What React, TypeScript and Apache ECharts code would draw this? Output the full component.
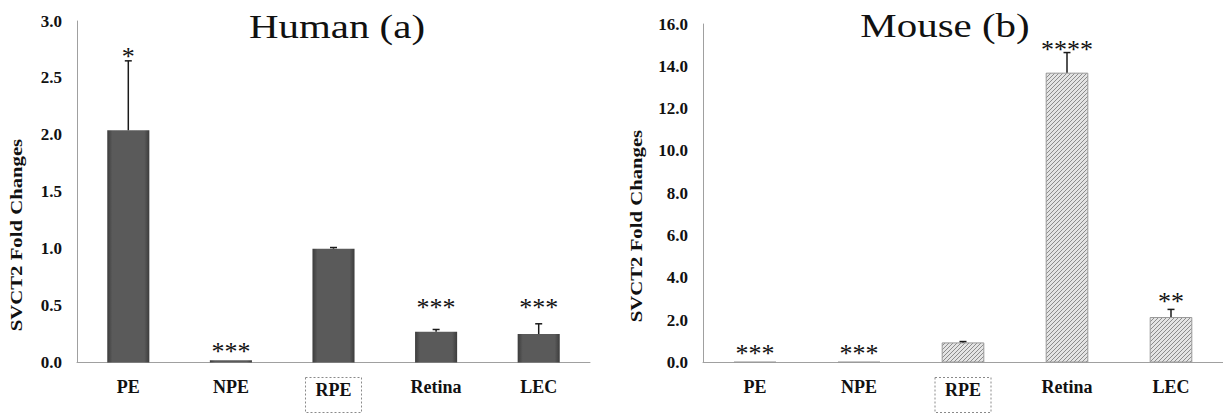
import React, { useEffect, useRef } from "react";
import * as echarts from "echarts";

const categories = ["PE", "NPE", "RPE", "Retina", "LEC"];

const humanValues = [2.04, 0.02, 1.0, 0.27, 0.25];
const humanErrors = [0.61, 0, 0.01, 0.02, 0.09];
const humanStars = ["*", "***", "", "***", "***"];
const humanStarLevels = [2.74, 0.15, 0, 0.54, 0.54];
const humanAxis = { min: 0, max: 3, interval: 0.5 };

const mouseValues = [0.03, 0.03, 0.95, 13.7, 2.15];
const mouseErrors = [0, 0, 0.04, 0.95, 0.36];
const mouseStars = ["***", "***", "", "****", "**"];
const mouseStarLevels = [0.72, 0.72, 0, 15.07, 3.18];
const mouseAxis = { min: 0, max: 16, interval: 2 };

const titles = ["Human (a)", "Mouse (b)"];
const yAxisTitle = "SVCT2 Fold Changes";
const referenceCategory = "RPE";

const SERIF = "Liberation Serif, Times New Roman, serif";

function makeHatch(): HTMLCanvasElement {
  const c = document.createElement("canvas");
  c.width = 4;
  c.height = 4;
  const ctx = c.getContext("2d")!;
  ctx.fillStyle = "#e4e4e4";
  ctx.fillRect(0, 0, 4, 4);
  ctx.strokeStyle = "#8c8c8c";
  ctx.lineWidth = 1;
  ctx.beginPath();
  ctx.moveTo(-1, 5);
  ctx.lineTo(5, -1);
  ctx.moveTo(-3, 3);
  ctx.lineTo(3, -3);
  ctx.moveTo(1, 7);
  ctx.lineTo(7, 1);
  ctx.stroke();
  return c;
}

export default function App() {
  const ref = useRef<HTMLDivElement>(null);

  useEffect(() => {
    if (!ref.current) return;
    const chart = echarts.init(ref.current, undefined, { renderer: "svg" });
    const hatch = makeHatch();

    const xAxisCommon = (gridIndex: number) => ({
      type: "category" as const,
      gridIndex,
      data: categories,
      axisLine: { lineStyle: { color: "#a0a0a0", width: 1 } },
      axisTick: { show: false },
      axisLabel: {
        interval: 0,
        margin: 15,
        color: "#111",
        fontSize: 18,
        fontWeight: "bold",
        fontFamily: SERIF,
        formatter: (v: string) => (v === referenceCategory ? "{box|" + v + "}" : v),
        rich: {
          box: {
            color: "#111",
            fontSize: 18,
            fontWeight: "bold",
            fontFamily: SERIF,
            borderColor: "#8a8a8a",
            borderWidth: 1,
            borderType: [2, 2],
            padding: [3, 10, 14, 10],
          },
        },
      },
    });

    const yAxisCommon = (gridIndex: number, ax: { min: number; max: number; interval: number }) => ({
      type: "value" as const,
      gridIndex,
      min: ax.min,
      max: ax.max,
      interval: ax.interval,
      axisLine: { show: true, lineStyle: { color: "#a0a0a0", width: 1 } },
      axisTick: { show: false },
      splitLine: { show: false },
      axisLabel: {
        margin: 15,
        color: "#111",
        fontSize: 17,
        fontWeight: "bold",
        fontFamily: SERIF,
        formatter: (v: number) => v.toFixed(1),
      },
    });

    const errorSeries = (idx: number, values: number[], errors: number[]) => ({
      type: "custom" as const,
      xAxisIndex: idx,
      yAxisIndex: idx,
      z: 5,
      data: values.map((v, i) => [i, v, errors[i]]),
      renderItem: (params: any, api: any) => {
        const i = api.value(0);
        const v = api.value(1);
        const e = api.value(2);
        if (!(e > 0)) return { type: "group", children: [] };
        const b = api.coord([i, v]);
        const t = api.coord([i, v + e]);
        const st = { stroke: "#1a1a1a", lineWidth: 1.5 };
        return {
          type: "group",
          children: [
            { type: "line", shape: { x1: b[0], y1: b[1], x2: t[0], y2: t[1] }, style: st },
            { type: "line", shape: { x1: t[0] - 3.5, y1: t[1], x2: t[0] + 3.5, y2: t[1] }, style: st },
          ],
        };
      },
    });

    const starSeries = (idx: number, stars: string[], levels: number[]) => ({
      type: "custom" as const,
      xAxisIndex: idx,
      yAxisIndex: idx,
      z: 6,
      data: levels.map((l, i) => [i, l]),
      renderItem: (params: any, api: any) => {
        const s = stars[params.dataIndex];
        if (!s) return { type: "group", children: [] };
        const p = api.coord([api.value(0), api.value(1)]);
        return {
          type: "text",
          x: p[0],
          y: p[1] + 6,
          style: {
            text: s,
            fontSize: 26,
            fontFamily: SERIF,
            fill: "#111",
            align: "center",
            verticalAlign: "middle",
          },
        };
      },
    });

    const textTitle = (text: string, x: number, y: number) => ({
      type: "text",
      x,
      y,
      scaleX: 1.24,
      style: {
        text,
        fontSize: 33,
        fontFamily: SERIF,
        fill: "#111",
        align: "center",
        verticalAlign: "middle",
      },
    });

    const axisTitle = (x: number, y: number) => ({
      type: "text",
      x,
      y,
      rotation: Math.PI / 2,
      scaleX: 1.22,
      style: {
        text: yAxisTitle,
        fontSize: 17,
        fontWeight: "bold",
        fontFamily: SERIF,
        fill: "#111",
        align: "center",
        verticalAlign: "middle",
      },
    });

    chart.setOption({
      animation: false,
      backgroundColor: "#ffffff",
      grid: [
        { left: 77, top: 21, width: 513, height: 356 },
        { left: 703, top: 24, width: 520, height: 354 },
      ],
      xAxis: [xAxisCommon(0), xAxisCommon(1)],
      yAxis: [yAxisCommon(0, humanAxis), yAxisCommon(1, mouseAxis)],
      graphic: [
        textTitle(titles[0], 337, 27),
        textTitle(titles[1], 945, 26),
        axisTitle(16, 235),
        axisTitle(636, 226),
      ],
      series: [
        {
          type: "bar",
          xAxisIndex: 0,
          yAxisIndex: 0,
          barWidth: "41%",
          data: humanValues,
          itemStyle: {
            color: {
              type: "linear",
              x: 0,
              y: 0,
              x2: 1,
              y2: 0,
              colorStops: [
                { offset: 0, color: "#3c3c3c" },
                { offset: 0.12, color: "#5a5a5a" },
                { offset: 0.88, color: "#5a5a5a" },
                { offset: 1, color: "#3c3c3c" },
              ],
            },
          },
        },
        {
          type: "bar",
          xAxisIndex: 1,
          yAxisIndex: 1,
          barWidth: "41%",
          data: mouseValues,
          itemStyle: {
            color: { image: hatch, repeat: "repeat", imageWidth: 4, imageHeight: 4 } as any,
            borderColor: "#9a9a9a",
            borderWidth: 1,
          },
        },
        errorSeries(0, humanValues, humanErrors),
        errorSeries(1, mouseValues, mouseErrors),
        starSeries(0, humanStars, humanStarLevels),
        starSeries(1, mouseStars, mouseStarLevels),
      ],
    });

    return () => chart.dispose();
  }, []);

  return (
    <div
      ref={ref}
      style={{ position: "fixed", left: 0, top: 0, width: 1223, height: 413, background: "#fff" }}
    />
  );
}
